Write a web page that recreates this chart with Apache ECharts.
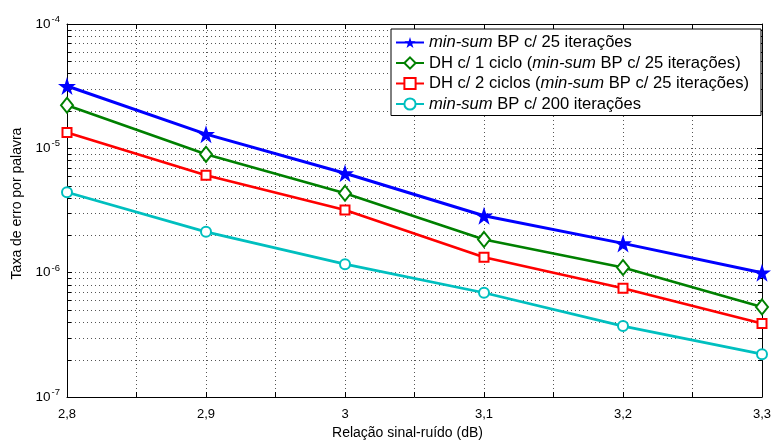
<!DOCTYPE html>
<html>
<head>
<meta charset="utf-8">
<title>Taxa de erro por palavra</title>
<script src="https://cdn.jsdelivr.net/npm/echarts@6/dist/echarts.min.js"></script>
<style>
  html, body { margin: 0; padding: 0; background: #fff; }
  #chart { width: 773px; height: 441px; }
</style>
</head>
<body>
<div id="chart"></div>
<script>
// SNR points (dB)
const snr = [2.8, 2.9, 3.0, 3.1, 3.2, 3.3];

// Word error rate per decoder configuration
const bp25  = [3.17e-5, 1.30e-5, 6.3e-6, 2.87e-6, 1.72e-6, 1.0e-6];
const dh1   = [2.22e-5, 8.95e-6, 4.35e-6, 1.85e-6, 1.1e-6, 5.3e-7];
const dh2   = [1.34e-5, 6.07e-6, 3.19e-6, 1.33e-6, 7.5e-7, 3.9e-7];
const bp200 = [4.43e-6, 2.13e-6, 1.17e-6, 6.89e-7, 3.72e-7, 2.21e-7];

const seriesNames = [
  'min-sum BP c/ 25 iterações',
  'DH c/ 1 ciclo (min-sum BP c/ 25 iterações)',
  'DH c/ 2 ciclos (min-sum BP c/ 25 iterações)',
  'min-sum BP c/ 200 iterações'
];

// Axis ranges and tick positions
const xMin = 2.8, xMax = 3.3, xStep = 0.05;
const yMin = 1e-7, yMax = 1e-4;
const yMinorTicks = [];
[1e-7, 1e-6, 1e-5].forEach(function (dec) {
  for (let k = 2; k <= 9; k++) yMinorTicks.push(k * dec);
});

const FONT = 'Liberation Sans, Arial, sans-serif';
const STAR = 'path://M50 0 L61.23 34.55 L97.55 34.55 L68.17 55.9 L79.39 90.45 L50 69.1 L20.61 90.45 L31.83 55.9 L2.45 34.55 L38.77 34.55 Z';

function pairs(ys) { return snr.map(function (x, i) { return [x, ys[i]]; }); }

function lineSeries(name, ys, color, symbol, size, width, extra) {
  return Object.assign({
    name: name,
    type: 'line',
    data: pairs(ys),
    symbol: symbol,
    symbolSize: size,
    showAllSymbol: true,
    lineStyle: { color: color, width: width },
    itemStyle: { color: color, borderColor: color, borderWidth: 2 },
    z: 3
  }, extra || {});
}

const chart = echarts.init(document.getElementById('chart'), null, { renderer: 'canvas' });

chart.setOption({
  animation: false,
  backgroundColor: '#fff',
  textStyle: { fontFamily: FONT, color: '#000' },
  grid: { left: 67, right: 11, top: 24, bottom: 44, containLabel: false, outerBoundsMode: 'none' },
  legend: {
    data: seriesNames,
    orient: 'vertical',
    left: 391,
    top: 29,
    padding: [5, 12, 3, 4],
    itemWidth: 28,
    itemHeight: 14,
    itemGap: 3.5,
    backgroundColor: '#fff',
    borderColor: '#000',
    borderWidth: 1,
    borderRadius: 0,
    selectedMode: false,
    formatter: function (name) { return name.replace('min-sum', '{i|min-sum}'); },
    textStyle: {
      fontFamily: FONT, fontSize: 16.6, color: '#000', lineHeight: 16.5,
      rich: { i: { fontFamily: FONT, fontSize: 16.6, fontStyle: 'italic', color: '#000', lineHeight: 16.5 } }
    }
  },
  xAxis: [{
    type: 'value',
    position: 'bottom',
    min: xMin, max: xMax, interval: xStep,
    name: 'Relação sinal-ruído (dB)',
    nameLocation: 'middle',
    nameGap: 28,
    nameTextStyle: { fontFamily: FONT, fontSize: 14, color: '#000', padding: [0, 14, 0, 0] },
    axisLine: { show: true, lineStyle: { color: '#000', width: 1 } },
    axisTick: { show: true, inside: true, length: 5, lineStyle: { color: '#000' } },
    axisLabel: {
      fontFamily: FONT, fontSize: 13, color: '#000', margin: 11,
      formatter: function (v) {
        const k = Math.round(v / xStep);
        if (k % 2 !== 0) return '';
        return String(Math.round(v * 10) / 10).replace('.', ',');
      }
    },
    splitLine: { show: true, lineStyle: { color: '#555', type: [1, 3], width: 1 } }
  }, {
    type: 'value',
    position: 'top',
    min: xMin, max: xMax, interval: xStep,
    axisLine: { show: true, onZero: false, lineStyle: { color: '#000', width: 1 } },
    axisTick: { show: true, inside: true, length: 5, lineStyle: { color: '#000' } },
    axisLabel: { show: false },
    splitLine: { show: false }
  }],
  yAxis: [{
    type: 'log',
    logBase: 10,
    position: 'left',
    min: yMin, max: yMax,
    name: 'Taxa de erro por palavra',
    nameLocation: 'middle',
    nameGap: 42,
    nameTextStyle: { fontFamily: FONT, fontSize: 14, color: '#000', padding: [0, 0, 0, 14] },
    axisLine: { show: true, onZero: false, lineStyle: { color: '#000', width: 1 } },
    axisTick: { show: true, inside: true, length: 5, lineStyle: { color: '#000' } },
    axisLabel: {
      color: '#000', margin: 7,
      formatter: function (v) {
        const e = Math.round(Math.log10(v));
        return '{b|10}{sup|' + e + '}';
      },
      rich: {
        b: { fontFamily: FONT, fontSize: 13.5, color: '#000' },
        sup: { fontFamily: FONT, fontSize: 9.5, color: '#000', padding: [0, 0, 9, 1] }
      }
    },
    splitLine: { show: true, lineStyle: { color: '#555', type: [1, 3], width: 1 } }
  }, {
    type: 'log',
    logBase: 10,
    position: 'right',
    min: yMin, max: yMax,
    axisLine: { show: true, onZero: false, lineStyle: { color: '#000', width: 1 } },
    axisTick: { show: true, inside: true, length: 5, lineStyle: { color: '#000' } },
    axisLabel: { show: false },
    splitLine: { show: false }
  }],
  series: [
    // minor log grid lines with inward ticks on both sides
    {
      type: 'custom',
      name: 'minor-grid',
      silent: true,
      xAxisIndex: 0,
      yAxisIndex: 0,
      z: 1,
      data: yMinorTicks.map(function (v) { return [xMin, v]; }),
      renderItem: function (params, api) {
        const v = api.value(1);
        const p = api.coord([xMin, v]);
        const q = api.coord([xMax, v]);
        const y = Math.round(p[1]) + 0.5;
        return {
          type: 'group',
          children: [
            { type: 'line', shape: { x1: p[0], y1: y, x2: q[0], y2: y },
              style: { stroke: '#555', lineWidth: 1, lineDash: [1, 3] } },
            { type: 'line', shape: { x1: p[0], y1: y, x2: p[0] + 4, y2: y },
              style: { stroke: '#000', lineWidth: 1 } },
            { type: 'line', shape: { x1: q[0] - 4, y1: y, x2: q[0], y2: y },
              style: { stroke: '#000', lineWidth: 1 } }
          ]
        };
      }
    },
    lineSeries(seriesNames[0], bp25, '#0000ff', STAR, 18, 3, { itemStyle: { color: '#0000ff', borderWidth: 0 } }),
    lineSeries(seriesNames[1], dh1, '#008000', 'emptyDiamond', [12, 15], 2.7),
    lineSeries(seriesNames[2], dh2, '#ff0000', 'emptyRect', 9, 2.7),
    lineSeries(seriesNames[3], bp200, '#00bfbf', 'emptyCircle', 10, 2.7)
  ]
});
</script>
</body>
</html>
